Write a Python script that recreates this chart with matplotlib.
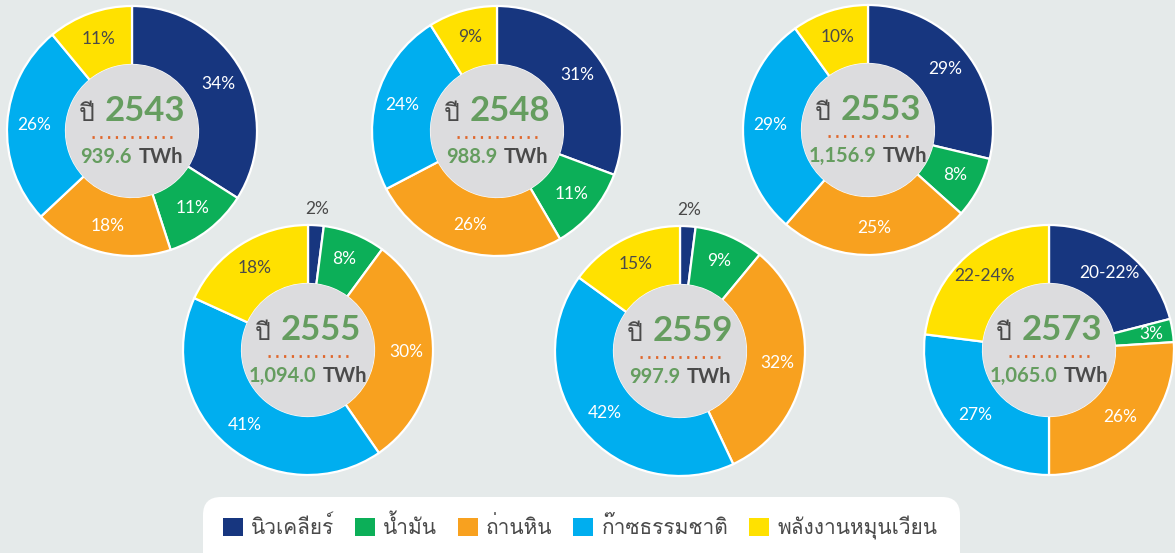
import numpy as np
import matplotlib
matplotlib.use("Agg")
import matplotlib.pyplot as plt
from matplotlib import font_manager
from matplotlib.ft2font import FT2Font
from matplotlib.patches import Patch, Circle, FancyBboxPatch
from matplotlib.offsetbox import TextArea, HPacker, AnnotationBbox

# shares per year, wedges clockwise from 12 o'clock:
# nuclear, oil, coal, gas, renewable
years = ["2543", "2548", "2553", "2555", "2559", "2573"]
totals = ["939.6", "988.9", "1,156.9", "1,094.0", "997.9", "1,065.0"]
shares_2543 = [34, 11, 18, 26, 11]
shares_2548 = [31, 11, 26, 24, 9]
shares_2553 = [29, 8, 25, 29, 10]
shares_2555 = [2, 8, 30, 41, 18]
shares_2559 = [2, 9, 32, 42, 15]
shares_2573 = [21, 3, 26, 27, 23]
labels_2573 = ["20-22%", "3%", "26%", "27%", "22-24%"]
fuel_names = ["นิวเคลียร์", "น้ำมัน", "ถ่านหิน", "ก๊าซธรรมชาติ", "พลังงานหมุนเวียน"]

colors = ["#17367f", "#0caf58", "#f8a11f", "#00aeef", "#ffe100"]
bg = "#e5eaea"
hub_gray = "#dcdcde"
year_green = "#659d5f"
dark = "#4a4a4a"


def find_thai_font():
    for f in font_manager.fontManager.ttflist:
        try:
            if 0x0E1B in FT2Font(f.fname).get_charmap():
                return f.name
        except Exception:
            pass
    return "DejaVu Sans"


thai = find_thai_font()
fams = ["Lato", thai, "DejaVu Sans"]
plt.rcParams["font.family"] = fams

all_shares = [shares_2543, shares_2548, shares_2553, shares_2555, shares_2559, shares_2573]
all_labels = [[f"{v}%" for v in s] for s in all_shares[:5]] + [labels_2573]

# pixel centres of the donuts (top row first)
centres_px = [(132, 131), (497, 131), (868, 130), (308, 350), (680, 351), (1049, 350)]
R, R_IN = 125, 66
W, H = 1175, 553

fig = plt.figure(figsize=(11.75, 5.53), dpi=100)
fig.patch.set_facecolor(bg)
ax = fig.add_axes([0, 0, 1, 1])
ax.set_facecolor(bg)

for year, total, shares, labs, (px, py) in zip(years, totals, all_shares, all_labels, centres_px):
    cx, cy = px, H - py
    wedges, _ = ax.pie(shares, colors=colors, startangle=90, counterclock=False,
                       center=(cx, cy), radius=R, frame=True,
                       wedgeprops=dict(width=R - R_IN, edgecolor="white", linewidth=1.6))
    ax.add_patch(Circle((cx, cy), R_IN + 0.5, facecolor=hub_gray, edgecolor="none", zorder=3))

    for w, lab, val, col in zip(wedges, labs, shares, colors):
        mid = np.deg2rad((w.theta1 + w.theta2) / 2)
        if val < 4 and col == colors[0]:
            r, c = 141, dark
        else:
            r = 98 if val >= 4 else 104
            c = dark if col == colors[4] else "white"
        ax.text(cx + r * np.cos(mid), cy + r * np.sin(mid), lab, ha="center", va="center",
                fontsize=12.5, color=c, zorder=4)

    # centre text
    top = HPacker(children=[TextArea("ปี", textprops=dict(fontsize=18, color=dark, family=fams)),
                            TextArea(year, textprops=dict(fontsize=25, color=year_green,
                                                          weight="bold", family=fams))],
                  align="baseline", pad=0, sep=7)
    ax.add_artist(AnnotationBbox(top, (cx, cy + 20), frameon=False, box_alignment=(0.5, 0.5), zorder=5))
    bot = HPacker(children=[TextArea(total, textprops=dict(fontsize=14.5, color=year_green,
                                                           weight="bold", family=fams)),
                            TextArea("TWh", textprops=dict(fontsize=14.5, color=dark,
                                                           weight="bold", family=fams))],
                  align="baseline", pad=0, sep=5)
    ax.add_artist(AnnotationBbox(bot, (cx, cy - 26), frameon=False, box_alignment=(0.5, 0.5), zorder=5))
    ax.plot([cx - 40, cx + 40], [cy - 6, cy - 6], color="#e0662a", lw=2,
            linestyle=(0, (0.8, 2.0)), zorder=5)

# legend panel
ax.add_patch(FancyBboxPatch((203, -40), 757, 96, boxstyle="round,pad=0,rounding_size=18",
                            facecolor="white", edgecolor="none", zorder=1))
handles = [Patch(facecolor=c, edgecolor="none", label=n) for c, n in zip(colors, fuel_names)]
ax.legend(handles=handles, ncol=5, loc="center", bbox_to_anchor=(580, 26),
          bbox_transform=ax.transData, frameon=False, fontsize=15,
          handlelength=0.95, handleheight=0.95, handletextpad=0.4, columnspacing=1.0,
          labelcolor=dark)

ax.set_xlim(0, W)
ax.set_ylim(0, H)
ax.axis("off")

fig.savefig("out.png", dpi=100, facecolor=bg)
